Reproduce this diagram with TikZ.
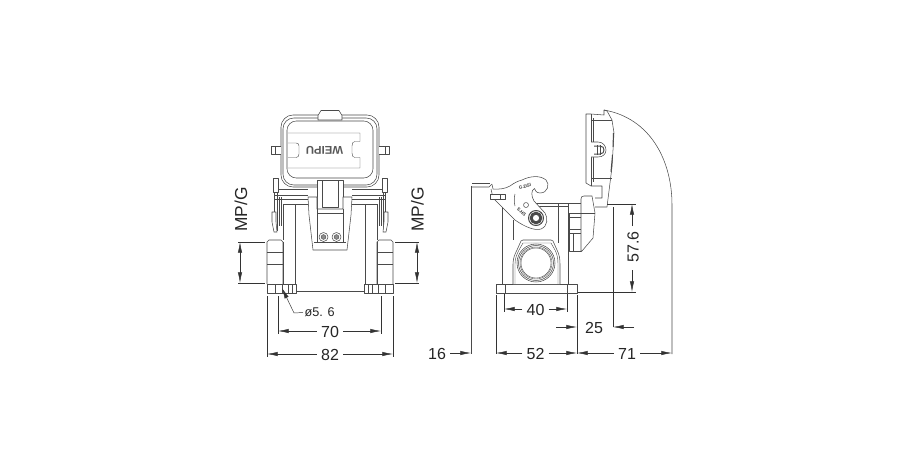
\documentclass[tikz,border=0pt]{standalone}
\usepackage{fontspec}
\setmainfont{Liberation Sans}
\usetikzlibrary{arrows.meta}
\definecolor{ink}{HTML}{4A4A4A}
\definecolor{dimc}{HTML}{333333}
\tikzset{
  x=0.75pt,y=-0.75pt,
  part/.style={draw=ink,line width=0.4pt,line join=round},
  heavy/.style={draw=ink,line width=0.75pt,line join=round},
  thin part/.style={draw=ink,line width=0.3pt},
  dimline/.style={draw=dimc,line width=0.35pt},
  dimarrow/.style={dimline,-{Latex[length=8pt,width=3.2pt]}},
  dimboth/.style={dimline,{Latex[length=8pt,width=3.2pt]}-{Latex[length=8pt,width=3.2pt]}},
  dimtext/.style={font=\fontsize{12}{12}\selectfont,text=black!85,inner sep=3pt},
  sidetext/.style={dimtext,rotate=90},
  mptext/.style={font=\fontsize{13}{13}\selectfont,text=black!85,inner sep=3pt,rotate=90},
}
\newcommand{\frontleft}{%
  % cover peg
  \draw[part,fill=white] (281,146) -- (271,146) -- (271,154) -- (281,154);
  \draw[part] (275,146) -- (275,154);
  % bands
  \draw[part] (275,189) -- (308,189) (275,195) -- (308,195) (275,199) -- (308,199) (283,204) -- (309,204);
  % locking lever, stem
  \draw[part,fill=white] (273,178) rectangle (278,192);
  \draw[heavy] (273,178) -- (278,178);
  \draw[part] (274.5,192) -- (274.5,231) (277,192) -- (277,231);
  \draw[part] (279,197) -- (279,226) (281,197) -- (281,226);
  \draw[part,fill=white] (272,212) -- (276,212) -- (276,222) -- (277,232) -- (274,232) -- (272,222) -- cycle;
  % housing
  \draw[part] (283,204) -- (283,240) (295,204) -- (295,284);
  % cable entry
  \draw[part,fill=white] (267,284) -- (267,242) -- (269,240) -- (281,240) -- (283,242) -- (283,284);
  \draw[part] (267,252) -- (283,252) (267,264) -- (283,264);
  \draw[heavy] (283,242) -- (283,284);
  % foot
  \draw[part,fill=white] (267,284) rectangle (296,293);
  \draw[part] (275,284) -- (275,293) (282,284) -- (282,293) (288,284) -- (288,293) (292,284) -- (292,293);
}
\begin{document}
\begin{tikzpicture}
\useasboundingbox[fill=white] (0,0) rectangle (910,450);

% ------- FRONT VIEW -------
% cover
\draw[part,rounded corners=9pt] (281,115) rectangle (379,187);
\draw[part,rounded corners=8pt] (283,118) rectangle (377,185);
\draw[part,rounded corners=7pt] (287,121) rectangle (373,178);
\draw[part,fill=white] (318,115.5) -- (321,110.5) -- (339,110.5) -- (342,115.5) -- (342,120) -- (318,120) -- cycle;
% logo frame
\draw[thin part] (288,133) -- (360,133) -- (360,141.5) -- (355,141.5) .. controls (353,141.5) and (352,143) .. (352,146) -- (352,153) .. controls (352,156) and (353,157.5) .. (355,157.5) -- (360,157.5) -- (360,168) -- (288,168);
\draw[thin part] (288,143) -- (296,143) .. controls (298,143) and (299,144) .. (299,146) -- (299,154) .. controls (299,156) and (298,157.5) .. (296,157.5) -- (288,157.5);
\node[rotate=180,font=\fontsize{8.5}{8.5}\selectfont\bfseries,text=black!65,inner sep=0pt] (logo) at (324.5,150.5) {WEIPU};
\frontleft
\begin{scope}[shift={(660,0)},xscale=-1]
  \frontleft
\end{scope}
% bottom line between feet
\draw[part] (296,291) -- (364,291);
% strap
\draw[part,fill=white] (317,180) rectangle (343,209);
\draw[part] (322,180) -- (322,207) -- (338,207) -- (338,180);
% latch plate
\draw[part,fill=white] (308,197) -- (317,197) -- (317,209) -- (343,209) -- (343,197) -- (352,197) -- (351,215) -- (347,250) -- (313,250) -- (309,215) -- cycle;
\draw[part] (317,209) -- (317,242) (343,209) -- (343,242) (314,242) -- (346,242) (317,213) -- (343,213);
\foreach \cx in {323.5,336.5}{
  \draw[part,fill=white] (\cx,237) circle[radius=4.5];
  \draw[thin part,fill=black!45] (\cx,237) circle[radius=2.4];
}

% front dimensions
\draw[dimline] (238,242) -- (265,242) (238,283) -- (265,283);
\draw[dimline] (395,242) -- (419,242) (395,283) -- (419,283);
\coordinate (mpla) at (240,242); \coordinate (mplb) at (240,283);
\coordinate (mpra) at (417,242); \coordinate (mprb) at (417,283);
\draw[dimboth] (mpla) -- (mplb);
\draw[dimboth] (mpra) -- (mprb);
\node[mptext] (mpl) at (241,209.5) {MP/G};
\node[mptext] (mpr) at (417.5,209.5) {MP/G};

\draw[dimline] (278,296) -- (278,334) (381,296) -- (381,334);
\draw[dimline] (267,296) -- (267,357) (393,296) -- (393,357);
\node[dimtext] (d70) at (330,332) {70};
\coordinate (d70a) at (278,331); \coordinate (d70b) at (381,331);
\draw[dimarrow] (d70.west|-d70a) -- (d70a);
\draw[dimarrow] (d70.east|-d70b) -- (d70b);
\node[dimtext] (d82) at (330,354.5) {82};
\coordinate (d82a) at (267,354); \coordinate (d82b) at (393,354);
\draw[dimarrow] (d82.west|-d82a) -- (d82a);
\draw[dimarrow] (d82.east|-d82b) -- (d82b);
\node[font=\fontsize{9.5}{9.5}\selectfont,text=black!85,inner sep=1pt,anchor=west] (hole) at (303,312.5) {ø5. 6};
\coordinate (holec) at (282,288);
\draw[dimarrow] (hole.west) -- (294,313) -- (holec);

% ------- SIDE VIEW -------
\draw[part] (471,186) -- (471,354);
\draw[part] (471.5,187) -- (489,187) -- (492,184);
\draw[part] (502,207) -- (502,284) (513,220) -- (513,240);
% body lines
\draw[part] (535,203) -- (581,203) (537,206) -- (568,206);
\draw[part] (558,203) -- (558,243) (568,203) -- (568,284);
% base
\draw[part,fill=white] (496,284) rectangle (577,293);
\draw[part] (505,284) -- (505,293) (567,284) -- (567,293);
% shroud
\draw[part,fill=white] (513,284) -- (513,264) .. controls (513,258) and (515,254) .. (517,250) -- (521,241) -- (523,240) -- (551,240) -- (553,241) -- (557,250) .. controls (559,254) and (560,258) .. (560,264) -- (560,284);
\draw[thin part] (515,284) -- (515,264) .. controls (515,258) and (517,254) .. (519,250) -- (523,243) -- (551,243) -- (555,250) .. controls (557,254) and (558,258) .. (558,264) -- (558,284);
\draw[part,fill=white] (536,263) circle[radius=19];
\draw[part] (536,263) circle[radius=17.5];
\draw[thin part] (536,263) circle[radius=16];
\draw[thin part] (536,263) circle[radius=15];
% side block
\draw[part,fill=white] (569,213) rectangle (581,251);
\draw[part] (569,213) -- (581,213) (569,217) -- (581,217) (569,229) -- (581,229) (569,233) -- (581,233) (573,233) -- (573,251);
\draw[part,fill=white] (581,199) .. controls (581,197) and (582,196) .. (584,196) -- (592,196) -- (595,213) -- (593,238) -- (582,251) -- (581,251) -- cycle;
\draw[part] (581,213) -- (595,213);
% cover, side
\draw[part,fill=white] (591,114) -- (604,115) -- (604,110) -- (607,111) -- (612,120) -- (614,133) -- (612,167) -- (607,207) -- (595,207);
\draw[part,fill=white] (591,114) -- (586,114) -- (586,183) -- (591,186) -- (602,186) -- (602,198) -- (595,198);
\draw[part] (591,114) -- (591,186) (593,118) -- (593,182) (591,120) -- (612,120) (591,178) -- (612,178);
\draw[heavy] (613.5,133) -- (613,147) (612.5,155) -- (611,172);
% clip on cover
\draw[part,fill=white] (591,142) -- (598,142) .. controls (603,142) and (606,146) .. (606,150) .. controls (606,154) and (603,157) .. (598,157) -- (591,157);
\draw[heavy] (594,146) -- (600,146) .. controls (603,146) and (604,148) .. (604,150) .. controls (604,152) and (603,154) .. (600,154) -- (594,154);
\draw[part] (597,145) -- (597,155) (600,145) -- (600,155);
% swing arc
\draw[part] (604,110) .. controls (650,118) and (672,160) .. (672,205) -- (672,354);
% lever
\draw[heavy] (472,183.5) -- (490,183.5);
\draw[part,fill=white] (492,184.5) -- (493,189) .. controls (498,189.5) and (505,189) .. (510,186) .. controls (514,183) and (518,181) .. (522,180) .. controls (530,176) and (540,175) .. (546,180) .. controls (550,184) and (548,193) .. (540,193) .. controls (536,193) and (535,190) .. (534.5,188.5) .. controls (531,190) and (531,196) .. (534,201) -- (545,213) .. controls (548,218) and (548,226) .. (541,229) .. controls (535,231) and (525,227) .. (515,220) -- (502,207) -- (493,198) -- (491,189);
\draw[part,fill=white] (490,194) rectangle (505,199);
\draw[part] (500,194) -- (500,199);
\draw[part] (526,205) circle[radius=2.5];
\draw[heavy,fill=white] (536,218) circle[radius=7.5];
\draw[line width=2.2pt,ink] (536,218) circle[radius=4.8];
\node[inner sep=0pt,font=\fontsize{3.4}{3.4}\selectfont\bfseries,rotate=15,text=black!80] (gtxt) at (525,186.5) {G.DSI};
\node[inner sep=0pt,font=\fontsize{3.4}{3.4}\selectfont\bfseries,rotate=-45,text=black!80] (stxt) at (521.5,212) {S.HS};
\draw[part] (515,194) .. controls (514,198) and (514,202) .. (515,206);

% side dimensions
\draw[dimline] (504,294) -- (504,312) (567,294) -- (567,312);
\draw[dimline] (496,295) -- (496,354) (577,295) -- (577,354);
\node[dimtext] (d40) at (535.5,310) {40};
\coordinate (d40a) at (504,309); \coordinate (d40b) at (567,309);
\draw[dimarrow] (d40.west|-d40a) -- (d40a);
\draw[dimarrow] (d40.east|-d40b) -- (d40b);
\node[dimtext] (d52) at (535.5,354) {52};
\coordinate (d52a) at (496,353); \coordinate (d52b) at (577,353);
\draw[dimarrow] (d52.west|-d52a) -- (d52a);
\draw[dimarrow] (d52.east|-d52b) -- (d52b);
\node[dimtext] (d71) at (627,354) {71};
\coordinate (d71a) at (577,353); \coordinate (d71b) at (672,353);
\draw[dimarrow] (d71.west|-d71a) -- (d71a);
\draw[dimarrow] (d71.east|-d71b) -- (d71b);
\node[dimtext] (d16) at (437,354) {16};
\coordinate (d16b) at (471,353);
\draw[dimarrow] (d16.east|-d16b) -- (d16b);
\node[dimtext] (d25) at (594,328) {25};
\coordinate (a25a) at (556,327); \coordinate (a25b) at (577,327);
\coordinate (a25c) at (634,327); \coordinate (a25d) at (613,327);
\draw[dimarrow] (a25a) -- (a25b);
\draw[dimarrow] (a25c) -- (a25d);
\draw[dimline] (613,207) -- (613,327);
\draw[dimline] (607,204) -- (636,204) (578,292) -- (636,292);
\node[sidetext] (d576) at (633,247) {57.6};
\coordinate (a57a) at (632,204); \coordinate (a57b) at (632,292);
\coordinate (a57c) at (632,226); \coordinate (a57d) at (632,270);
\draw[dimarrow] (a57c) -- (a57a);
\draw[dimarrow] (a57d) -- (a57b);
\end{tikzpicture}
\end{document}
